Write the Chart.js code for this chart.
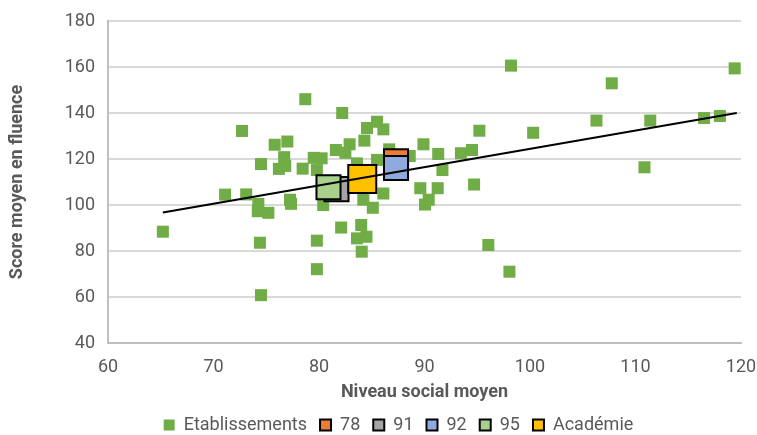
<!DOCTYPE html>
<html>
<head>
<meta charset="utf-8">
<script src="https://cdn.jsdelivr.net/npm/chart.js@4"></script>
<style>
  html, body { margin: 0; padding: 0; background: #ffffff; }
  #wrap { width: 757px; height: 435px; position: relative; }
</style>
</head>
<body>
<div id="wrap"><canvas id="c" width="757" height="435"></canvas></div>
<script>
const etabX = [65.2, 71.1, 73.1, 72.7, 78.7, 82.2, 75.8, 77.0, 74.5, 76.7, 76.2, 76.8, 78.45, 79.5, 80.25, 81.6, 82.5, 82.9, 79.8, 74.25, 74.2, 75.2, 77.25, 77.35, 80.4, 82.1, 79.8, 74.4, 79.8, 74.5, 84.3, 84.55, 85.5, 86.1, 83.6, 85.5, 86.65, 88.6, 89.9, 91.3, 91.7, 93.45, 94.5, 95.2, 100.3, 98.2, 107.75, 106.3, 111.4, 116.5, 118.0, 119.4, 110.85, 94.7, 96.05, 98.05, 89.6, 91.25, 90.4, 90.05, 86.1, 84.2, 85.1, 84.0, 83.6, 84.5, 84.05];
const etabY = [88.4, 104.5, 104.6, 132.2, 146.0, 140.0, 126.2, 127.6, 117.8, 120.8, 115.7, 117.0, 115.8, 120.5, 120.3, 123.9, 122.7, 126.4, 115.2, 100.5, 97.3, 96.6, 102.3, 100.5, 100.0, 90.2, 84.5, 83.6, 72.1, 60.8, 128.0, 133.5, 136.2, 132.9, 118.1, 119.6, 124.2, 121.3, 126.4, 122.2, 115.2, 122.5, 123.9, 132.3, 131.4, 160.6, 152.9, 136.7, 136.7, 137.8, 138.7, 159.4, 116.4, 108.9, 82.6, 71.0, 107.3, 107.3, 102.3, 100.2, 105.0, 102.3, 98.8, 91.3, 85.5, 86.2, 79.7];

const groupLabels = ["78", "91", "92", "95", "Académie"];
const groupX = [87.3, 81.66, 87.3, 80.9, 84.1];
const groupY = [119.0, 106.9, 116.1, 107.7, 111.3];
const groupColors = ["#ED7D31", "#A5A5A5", "#8FAADC", "#A9D18E", "#FFC000"];

const trendX = [65.2, 119.6];
const trendY = [96.7, 140.0];

const xTicks = [60, 70, 80, 90, 100, 110, 120];
const yTicks = [40, 60, 80, 100, 120, 140, 160, 180];

const txt = "#595959";
const FONT = "Roboto";

const datasets = [];
datasets.push({
  label: "Etablissements",
  data: etabX.map((x, i) => ({ x: x, y: etabY[i] })),
  pointStyle: "rect",
  pointRadius: 8.5,
  pointHoverRadius: 8.5,
  backgroundColor: "#70AD47",
  borderColor: "#70AD47",
  borderWidth: 0,
  pointBorderWidth: 0,
  order: 10
});
groupLabels.forEach((lab, i) => {
  const big = lab === "Académie";
  datasets.push({
    label: lab,
    data: [{ x: groupX[i], y: groupY[i] }],
    pointStyle: "rect",
    pointRadius: big ? 19.8 : 17,
    pointHoverRadius: big ? 19.8 : 17,
    backgroundColor: groupColors[i],
    borderColor: "#000000",
    borderWidth: 2,
    order: 9 - i
  });
});
datasets.push({
  label: "trend",
  type: "line",
  data: trendX.map((x, i) => ({ x: x, y: trendY[i] })),
  borderColor: "#000000",
  borderWidth: 2,
  pointRadius: 0,
  fill: false,
  showLine: true,
  order: 0
});

const shiftLegend = {
  id: "shiftLegend",
  afterLayout(chart) {
    const l = chart.legend;
    if (l) { l.left += 28; l.right += 28; }
  }
};

new Chart(document.getElementById("c"), {
  type: "scatter",
  data: { datasets: datasets },
  plugins: [shiftLegend],
  options: {
    responsive: false,
    animation: false,
    events: [],
    layout: { autoPadding: false, padding: { left: 0, right: 16, top: 21, bottom: -9 } },
    plugins: {
      tooltip: { enabled: false },
      legend: {
        position: "bottom",
        labels: {
          color: txt,
          font: { family: FONT, size: 18 },
          boxWidth: 11,
          boxHeight: 11,
          padding: 13,
          sort: (a, b) => a.datasetIndex - b.datasetIndex,
          filter: (item) => item.text !== "trend"
        }
      }
    },
    scales: {
      x: {
        type: "linear",
        min: 60, max: 120,
        afterBuildTicks: (s) => { s.ticks = xTicks.map(v => ({ value: v })); },
        afterFit: (s) => { s.height = 60; s.paddingLeft = 0; s.paddingRight = 0; },
        grid: { display: false, drawTicks: false },
        border: { display: true, color: "#BFBFBF", width: 2 },
        ticks: { color: txt, font: { family: FONT, size: 18 }, padding: 14 },
        title: { display: true, text: "Niveau social moyen", color: txt,
                 font: { family: FONT, size: 18, weight: "bold" }, padding: { top: 0, bottom: 0 } }
      },
      y: {
        type: "linear",
        min: 40, max: 180,
        afterBuildTicks: (s) => { s.ticks = yTicks.map(v => ({ value: v })); },
        afterFit: (s) => { s.width = 108; s.paddingTop = 0; s.paddingBottom = 0; },
        grid: { color: "#D9D9D9", lineWidth: 2, drawTicks: false },
        border: { display: true, color: "#BFBFBF", width: 2 },
        ticks: { color: txt, font: { family: FONT, size: 18 }, padding: 13 },
        title: { display: true, text: "Score moyen en fluence", color: txt,
                 font: { family: FONT, size: 18, weight: "bold" }, padding: { top: 7, bottom: 0 } }
      }
    }
  }
});
</script>
</body>
</html>
